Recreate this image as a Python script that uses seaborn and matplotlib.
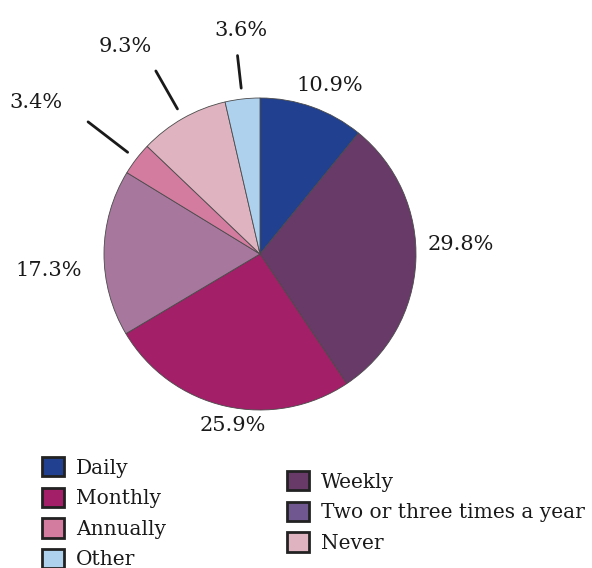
import numpy as np
import matplotlib
matplotlib.use("Agg")
import matplotlib.pyplot as plt
from matplotlib.patches import Patch
import seaborn as sns

# slices, clockwise from 12 o'clock
categories = ["Daily", "Weekly", "Monthly", "Two or three times a year",
              "Annually", "Never", "Other"]
shares = [10.9, 29.8, 25.9, 17.3, 3.4, 9.3, 3.6]
pct_labels = ["10.9%", "29.8%", "25.9%", "17.3%", "3.4%", "9.3%", "3.6%"]

slice_colors = ["#21408f", "#683a68", "#a31f68", "#a8779e",
                "#d47ba0", "#dfb3c0", "#aed2ee"]
# the legend swatch for "Two or three times a year" is a different purple
legend_colors = ["#21408f", "#683a68", "#a31f68", "#70578f",
                 "#d47ba0", "#dfb3c0", "#aed2ee"]

left_col = ["Daily", "Monthly", "Annually", "Other"]
right_col = ["Weekly", "Two or three times a year", "Never"]

# label placement: distance (radii) and angle nudge (deg) from the slice middle
label_dist = [1.17, 1.29, 1.11, 1.36, 1.73, 1.59, 1.44]
label_nudge = [-2.9, 5.5, 3.8, 4.9, 3.5, 3.4, -1.5]
# outer end of leader line (radii), 0 = no leader
leader_end = [0, 0, 0, 0, 1.39, 1.35, 1.28]

sns.set_theme(style="white")
plt.rcParams["font.family"] = ["DejaVu Serif"]

W, H = 592, 568
fig = plt.figure(figsize=(W / 100, H / 100), dpi=100)
ax = fig.add_axes([0, 0, 1, 1])

cx, cy, R = 260, H - 254, 156
wedges, _ = ax.pie(shares, colors=slice_colors, startangle=90, counterclock=False,
                   center=(cx, cy), radius=R,
                   wedgeprops=dict(edgecolor="#4a4a4a", linewidth=0.6))
ax.set_xlim(0, W)
ax.set_ylim(0, H)
ax.set_aspect("equal")
ax.axis("off")

for w, lab, d, nd, r_end in zip(wedges, pct_labels, label_dist, label_nudge, leader_end):
    mid = (w.theta1 + w.theta2) / 2
    la = np.deg2rad(mid + nd)
    ax.text(cx + d * R * np.cos(la), cy + d * R * np.sin(la), lab,
            ha="center", va="center", fontsize=15, color="#1a1a1a")
    if r_end:
        ux, uy = np.cos(np.deg2rad(mid)), np.sin(np.deg2rad(mid))
        r0, r1 = 1.07 * R, r_end * R
        ax.plot([cx + r0 * ux, cx + r1 * ux], [cy + r0 * uy, cy + r1 * uy],
                color="#1a1a1a", lw=2)

color_of = dict(zip(categories, legend_colors))


def make_legend(names, x, y):
    handles = [Patch(facecolor=color_of[n], edgecolor="#222222", linewidth=2)
               for n in names]
    leg = fig.legend(handles, names, loc="upper left", bbox_to_anchor=(x, y),
                     frameon=False, fontsize=14.5, handlelength=1.1, handleheight=1.1,
                     handletextpad=0.6, labelspacing=0.5, borderpad=0,
                     borderaxespad=0)
    for t in leg.get_texts():
        t.set_color("#1a1a1a")
    return leg


make_legend(left_col, 42 / W, 1 - 457 / H)
make_legend(right_col, 287 / W, 1 - 471 / H)

fig.savefig("out.png", dpi=100)
